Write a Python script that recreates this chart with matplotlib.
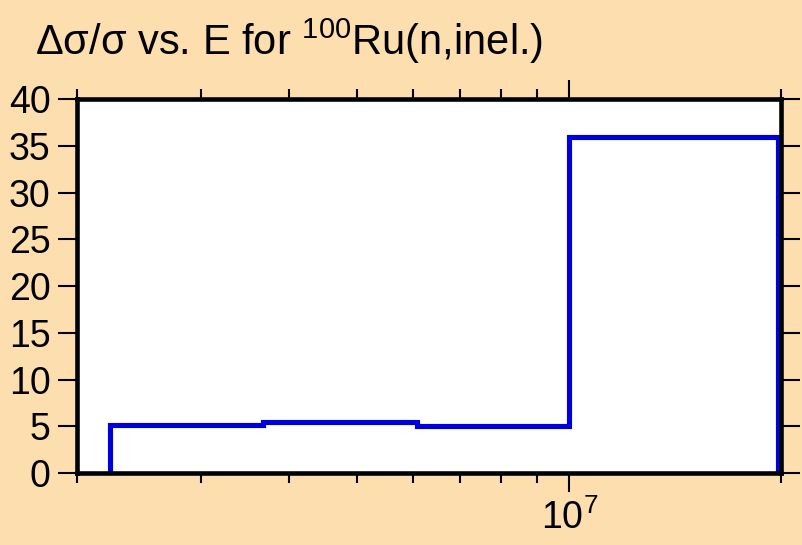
import matplotlib
matplotlib.use('Agg')
import matplotlib.pyplot as plt
from matplotlib.ticker import FixedLocator, NullFormatter

# energy bin edges (eV) and relative uncertainty (%)
edges = [2.23e6, 3.68e6, 6.08e6, 1.0e7, 1.98e7]
values = [5.1, 5.5, 5.0, 36.0]

y_ticks = [0, 5, 10, 15, 20, 25, 30, 35, 40]
x_minor = [2e6, 3e6, 4e6, 5e6, 6e6, 7e6, 8e6, 9e6, 2e7]

bg = '#fddeae'
plt.rcParams['font.family'] = ['Liberation Sans', 'DejaVu Sans']
plt.rcParams['mathtext.fontset'] = 'custom'
plt.rcParams['mathtext.rm'] = 'Liberation Sans'
plt.rcParams['mathtext.it'] = 'Liberation Sans:italic'

fig = plt.figure(figsize=(8.02, 5.45), dpi=100, facecolor=bg)
ax = fig.add_axes([0.096, 0.132, 0.878, 0.686])
ax.set_facecolor('white')

ax.stairs(values, edges, baseline=0, color='#0000dd', lw=3.7)

ax.set_xscale('log')
ax.set_xlim(2e6, 2e7)
ax.set_ylim(0, 40)

ax.set_yticks(y_ticks)
ax.set_yticklabels([str(v) for v in y_ticks])
ax.xaxis.set_major_locator(FixedLocator([1e7]))
ax.set_xticklabels([r'$10^{7}$'])
ax.xaxis.set_minor_locator(FixedLocator(x_minor))
ax.xaxis.set_minor_formatter(NullFormatter())

for s in ax.spines.values():
    s.set_linewidth(3.3)
ax.tick_params(axis='both', which='major', direction='out', length=14, width=1.5,
               labelsize=27, top=True, right=True, pad=5)
ax.tick_params(axis='x', which='minor', direction='out', length=7, width=1.5,
               top=True, bottom=True)

fig.text(0.044, 0.9, r'Δσ/σ vs. E for $^{100}$Ru(n,inel.)', fontsize=30,
         ha='left', va='baseline')

fig.savefig('out.png', dpi=100, facecolor=bg)
